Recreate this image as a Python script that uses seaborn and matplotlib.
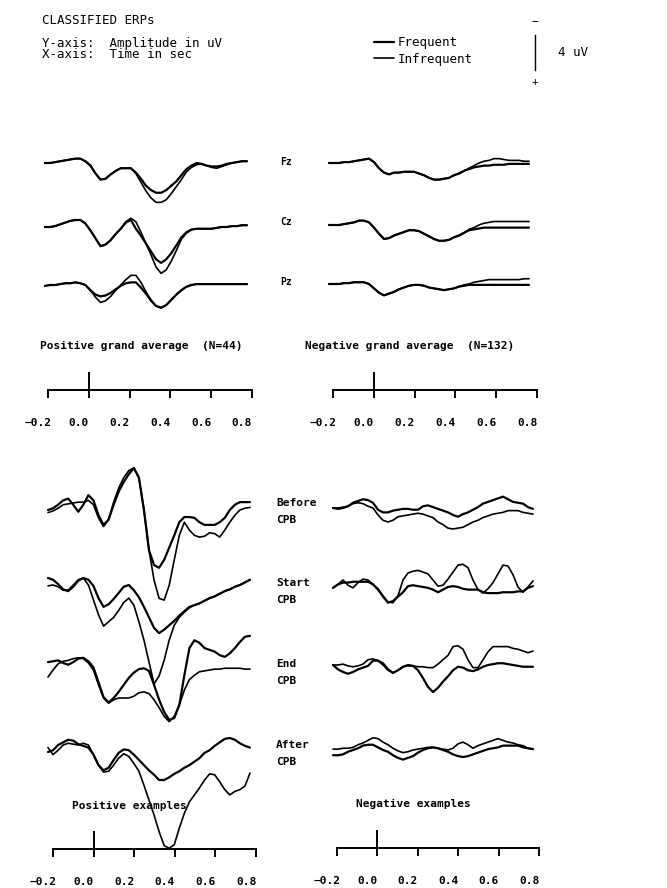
import numpy as np
import pandas as pd
import matplotlib.pyplot as plt
import seaborn as sns
from matplotlib.transforms import ScaledTranslation

sns.set_style("white")
plt.rcParams['font.family'] = ['DejaVu Sans Mono', 'DejaVu Sans']
plt.rcParams['text.color'] = 'black'
plt.rcParams['xtick.color'] = 'black'

# time base (sec), one sample every 25 ms
times = [-0.2, -0.175, -0.15, -0.125, -0.1, -0.075, -0.05, -0.025, 0.0, 0.025,
         0.05, 0.075, 0.1, 0.125, 0.15, 0.175, 0.2, 0.225, 0.25, 0.275,
         0.3, 0.325, 0.35, 0.375, 0.4, 0.425, 0.45, 0.475, 0.5, 0.525,
         0.55, 0.575, 0.6, 0.625, 0.65, 0.675, 0.7, 0.725, 0.75, 0.775, 0.8]

# positive grand average (N=44), amplitude in uV (positive = down)
pos_fz_freq = [0, 0, -0.1, -0.2, -0.3, -0.4, -0.5, -0.5, -0.2, 0.3, 1.2, 1.9, 1.8, 1.3, 0.9, 0.6, 0.6, 0.6, 1.1, 1.8,
               2.6, 3.1, 3.4, 3.4, 3.1, 2.6, 2.1, 1.4, 0.7, 0.3, 0, 0.1, 0.3, 0.4, 0.4, 0.3, 0.1, 0, -0.1, -0.2, -0.2]
pos_fz_infreq = [0, 0, -0.1, -0.2, -0.3, -0.4, -0.5, -0.5, -0.2, 0.3, 1.2, 1.9, 1.8, 1.3, 0.9, 0.6, 0.6, 0.6, 1.2, 2.2,
                 3.2, 4.0, 4.5, 4.5, 4.2, 3.5, 2.7, 1.9, 1.0, 0.5, 0.2, 0.1, 0.3, 0.5, 0.6, 0.4, 0.2, 0, -0.1, -0.2, -0.2]
pos_cz_freq = [0, 0, -0.1, -0.3, -0.5, -0.7, -0.8, -0.8, -0.4, 0.4, 1.3, 2.2, 2.0, 1.5, 0.8, 0.2, -0.5, -0.8, 0.2, 1.0,
               1.9, 2.8, 3.7, 4.1, 3.7, 3.0, 2.1, 1.2, 0.6, 0.3, 0.2, 0.2, 0.2, 0.2, 0.1, 0, 0, -0.1, -0.1, -0.2, -0.2]
pos_cz_infreq = [0, 0, -0.1, -0.3, -0.5, -0.7, -0.8, -0.8, -0.4, 0.4, 1.3, 2.2, 2.0, 1.5, 0.8, 0.2, -0.6, -1.0, -0.6, 0.6,
                 1.9, 3.2, 4.6, 5.3, 4.9, 3.9, 2.7, 1.4, 0.7, 0.3, 0.2, 0.2, 0.2, 0.2, 0.1, 0, 0, -0.1, -0.1, -0.2, -0.2]
pos_pz_freq = [0.1, 0, 0, -0.1, -0.2, -0.2, -0.3, -0.2, 0, 0.6, 1.1, 1.3, 1.2, 0.9, 0.5, 0.1, -0.2, -0.3, -0.3, 0.3,
               1.0, 1.8, 2.4, 2.6, 2.3, 1.7, 1.1, 0.6, 0.2, 0, -0.1, -0.1, -0.1, -0.1, -0.1, -0.1, -0.1, -0.1, -0.1, -0.1, -0.1]
pos_pz_infreq = [0.1, 0, 0, -0.1, -0.2, -0.2, -0.3, -0.2, 0, 0.6, 1.4, 2.0, 1.8, 1.3, 0.6, 0, -0.6, -1.1, -1.1, -0.3,
                 0.8, 1.7, 2.4, 2.6, 2.3, 1.7, 1.1, 0.6, 0.2, 0, -0.1, -0.1, -0.1, -0.1, -0.1, -0.1, -0.1, -0.1, -0.1, -0.1, -0.1]

# negative grand average (N=132)
neg_fz_freq = [0, 0, 0, -0.1, -0.1, -0.2, -0.3, -0.4, -0.5, -0.1, 0.6, 1.1, 1.3, 1.1, 1.1, 1.0, 1.0, 1.0, 1.2, 1.4,
               1.7, 1.9, 1.9, 1.8, 1.7, 1.4, 1.2, 0.9, 0.7, 0.5, 0.4, 0.3, 0.3, 0.2, 0.2, 0.2, 0.1, 0.1, 0.1, 0.1, 0.1]
neg_fz_infreq = [0, 0, 0, -0.1, -0.1, -0.2, -0.3, -0.4, -0.5, -0.1, 0.6, 1.1, 1.3, 1.1, 1.1, 1.0, 1.0, 1.0, 1.2, 1.4,
                 1.7, 1.9, 1.9, 1.8, 1.7, 1.4, 1.2, 0.9, 0.6, 0.3, 0, -0.2, -0.3, -0.5, -0.5, -0.4, -0.3, -0.3, -0.3, -0.2, -0.2]
neg_cz_freq = [0, 0, 0, -0.1, -0.2, -0.3, -0.5, -0.5, -0.3, 0.3, 1.0, 1.6, 1.5, 1.2, 1.0, 0.8, 0.6, 0.6, 0.7, 1.0,
               1.3, 1.6, 1.8, 1.8, 1.7, 1.4, 1.2, 0.9, 0.6, 0.5, 0.4, 0.3, 0.3, 0.3, 0.3, 0.3, 0.3, 0.3, 0.3, 0.3, 0.3]
neg_cz_infreq = [0, 0, 0, -0.1, -0.2, -0.3, -0.5, -0.5, -0.3, 0.3, 1.0, 1.6, 1.5, 1.2, 1.0, 0.8, 0.6, 0.6, 0.7, 1.0,
                 1.3, 1.6, 1.8, 1.8, 1.7, 1.4, 1.2, 0.9, 0.5, 0.3, 0, -0.2, -0.3, -0.4, -0.4, -0.4, -0.4, -0.4, -0.4, -0.4, -0.4]
neg_pz_freq = [0, 0, 0, -0.1, -0.1, -0.2, -0.2, -0.2, 0, 0.5, 1.0, 1.3, 1.1, 0.9, 0.6, 0.4, 0.2, 0.1, 0.1, 0.2,
               0.4, 0.5, 0.6, 0.7, 0.6, 0.5, 0.3, 0.2, 0.1, 0.1, 0.1, 0.1, 0.1, 0.1, 0.1, 0.1, 0.1, 0.1, 0.1, 0.1, 0.1]
neg_pz_infreq = [0, 0, 0, -0.1, -0.1, -0.2, -0.2, -0.2, 0, 0.5, 1.0, 1.3, 1.1, 0.9, 0.6, 0.4, 0.2, 0.1, 0.1, 0.2,
                 0.4, 0.5, 0.6, 0.7, 0.6, 0.5, 0.3, 0.1, 0, -0.2, -0.3, -0.4, -0.5, -0.5, -0.5, -0.5, -0.5, -0.5, -0.5, -0.6, -0.6]

# positive examples
pex_before_freq = [0, -0.2, -0.6, -1.1, -1.3, -0.6, 0.2, -0.6, -1.7, -1.1, 0.6, 1.7, 1.1, -0.6, -2.1, -3.2, -4.1, -4.8, -3.7, 0,
                   4.6, 6.3, 6.6, 5.7, 4.3, 2.9, 1.4, 0.8, 0.8, 0.9, 1.4, 1.7, 1.7, 1.7, 1.4, 0.9, 0, -0.6, -0.9, -0.9, -0.9]
pex_before_infreq = [0.3, 0.1, -0.2, -0.6, -0.7, -0.8, -0.9, -0.9, -1.1, -0.6, 0.9, 1.9, 1.1, -0.9, -2.5, -3.7, -4.5, -4.8, -3.7, 0,
                     4.6, 8.0, 10.1, 10.3, 8.6, 5.7, 2.9, 1.4, 2.3, 2.9, 3.1, 3.0, 2.6, 2.7, 3.1, 2.3, 1.4, 0.6, 0, -0.2, -0.3]
pex_start_freq = [-0.8, -0.6, -0.1, 0.5, 0.7, 0.2, -0.5, -0.8, -0.6, 0.1, 1.5, 2.5, 2.2, 1.6, 0.9, 0.2, 0, 0.6, 1.4, 2.5,
                  3.7, 4.9, 5.5, 5.1, 4.6, 4.1, 3.5, 3.0, 2.5, 2.3, 2.1, 1.8, 1.5, 1.3, 1.0, 0.7, 0.5, 0.2, 0, -0.3, -0.6]
pex_start_infreq = [0.1, 0, 0.2, 0.6, 0.6, 0, -0.6, -0.8, 0, 1.7, 3.4, 4.7, 4.2, 3.7, 2.9, 2.0, 1.5, 2.3, 4.2, 6.3,
                    8.8, 11.3, 10.4, 8.6, 6.3, 4.6, 3.7, 3.1, 2.6, 2.3, 2.1, 1.8, 1.5, 1.3, 1.0, 0.7, 0.5, 0.2, 0, -0.3, -0.6]
pex_end_freq = [-0.1, -0.2, -0.3, 0, 0.2, -0.1, -0.5, -0.6, -0.2, 0.5, 2.2, 3.9, 4.5, 4.0, 3.3, 2.5, 1.7, 1.1, 0.7, 0.6,
                0.9, 2.5, 4.2, 5.6, 6.5, 6.3, 4.8, 1.4, -1.7, -2.6, -2.3, -1.7, -1.5, -1.3, -0.9, -0.7, -1.1, -1.7, -2.4, -3.0, -3.1]
pex_end_infreq = [1.6, 0.8, 0.1, -0.2, -0.3, -0.5, -0.6, -0.5, 0, 0.8, 2.5, 4.0, 4.6, 4.2, 4.0, 4.0, 4.0, 3.8, 3.4, 3.3,
                  3.5, 4.2, 5.1, 6.1, 6.7, 6.1, 4.8, 3.1, 1.9, 1.4, 1.0, 0.9, 0.8, 0.7, 0.7, 0.6, 0.6, 0.6, 0.6, 0.7, 0.7]
pex_after_freq = [0.8, 0.6, 0, -0.3, -0.6, -0.5, -0.1, 0.1, 0.3, 1.1, 2.3, 2.9, 2.6, 1.7, 0.9, 0.5, 0.6, 1.1, 1.7, 2.3,
                  2.9, 3.4, 4.0, 4.0, 3.7, 3.3, 3.0, 2.6, 2.3, 1.9, 1.5, 0.9, 0.6, 0.1, -0.3, -0.7, -0.8, -0.6, -0.2, 0.1, 0.3]
pex_after_infreq = [0.3, 1.1, 0.6, 0, -0.2, -0.1, 0, -0.2, 0, 1.1, 2.3, 3.1, 3.0, 2.3, 1.5, 1.0, 1.3, 2.1, 3.0, 4.6,
                    6.3, 8.0, 9.9, 11.5, 11.8, 11.4, 9.5, 7.8, 6.5, 5.7, 4.9, 4.0, 3.3, 3.4, 4.2, 5.1, 5.7, 5.3, 5.1, 4.7, 3.2]

# negative examples
nex_before_freq = [0, 0.1, 0, -0.2, -0.6, -0.8, -1.0, -0.9, -0.6, 0.2, 0.5, 0.5, 0.3, 0.2, 0.1, 0.1, 0.2, 0.2, -0.2, -0.3,
                   -0.1, 0.1, 0.3, 0.5, 0.8, 1.0, 0.7, 0.5, 0.2, -0.1, -0.5, -0.7, -0.9, -1.1, -1.3, -1.0, -0.7, -0.6, -0.5, -0.1, 0.1]
nex_before_infreq = [0, 0, -0.1, -0.2, -0.5, -0.6, -0.5, -0.2, 0, 0.8, 1.4, 1.6, 1.4, 1.0, 0.9, 0.8, 0.7, 0.6, 0.7, 0.9,
                     1.1, 1.6, 1.9, 2.3, 2.4, 2.3, 2.2, 1.9, 1.6, 1.4, 1.1, 0.9, 0.7, 0.6, 0.5, 0.3, 0.3, 0.3, 0.5, 0.6, 0.7]
nex_start_freq = [0.1, -0.3, -0.5, -0.5, -0.6, -0.6, -0.6, -0.6, -0.3, 0.3, 1.1, 1.8, 1.6, 1.1, 0.6, -0.1, -0.2, -0.1, 0, 0.1,
                  0.3, 0.6, 0.3, 0, -0.1, 0, 0.2, 0.3, 0.3, 0.3, 0.6, 0.7, 0.7, 0.7, 0.6, 0.6, 0.6, 0.5, 0.5, 0.1, -0.1]
nex_start_infreq = [0.1, -0.3, -0.8, -0.2, 0.1, -0.5, -0.9, -0.8, -0.3, 0.2, 1.0, 1.7, 1.8, 1.0, -0.8, -1.6, -1.8, -1.9, -1.7, -1.5,
                    -0.8, -0.1, -0.2, -0.9, -1.7, -2.5, -2.6, -2.2, -0.8, 0.3, 0.7, 0.2, -0.5, -1.5, -2.5, -2.4, -1.4, 0, 0.6, 0, -0.7]
nex_end_freq = [0, 0.5, 0.8, 1.0, 0.8, 0.5, 0.3, 0.1, -0.5, -0.5, -0.2, 0.5, 0.9, 0.6, 0.2, 0, 0.1, 0.6, 1.5, 2.5,
                3.1, 2.6, 1.9, 1.3, 0.6, 0.2, 0.3, 0.6, 0.7, 0.5, 0.2, 0, -0.1, -0.2, -0.2, -0.1, 0, 0.1, 0.2, 0.2, 0.2]
nex_end_infreq = [0, 0, -0.1, 0.1, 0.2, 0.1, -0.1, -0.6, -0.7, -0.5, 0, 0.6, 0.9, 0.6, 0.2, 0.1, 0.1, 0.2, 0.2, 0.3,
                  0.3, -0.1, -0.6, -1.1, -2.1, -2.2, -1.8, -0.6, 0.3, 0.3, -0.6, -1.5, -2.1, -2.1, -2.1, -2.1, -1.9, -1.8, -1.6, -1.4, -1.6]
nex_after_freq = [0.6, 0.6, 0.5, 0.2, 0, -0.2, -0.5, -0.6, -0.6, -0.3, 0, 0.2, 0.6, 0.9, 1.1, 0.9, 0.7, 0.3, 0, -0.2,
                  -0.3, -0.2, 0, 0.2, 0.5, 0.7, 0.8, 0.7, 0.5, 0.3, 0.1, -0.1, -0.2, -0.3, -0.5, -0.5, -0.5, -0.5, -0.3, -0.2, -0.1]
nex_after_infreq = [-0.1, -0.1, -0.2, -0.2, -0.3, -0.6, -0.8, -1.1, -1.4, -1.3, -0.9, -0.6, -0.2, 0.1, 0.3, 0.2, 0, -0.1, -0.2, -0.3,
                    -0.3, -0.2, -0.1, 0, -0.2, -0.7, -0.9, -0.6, -0.2, -0.5, -0.7, -0.9, -1.1, -1.3, -1.1, -0.9, -0.8, -0.6, -0.5, -0.2, -0.1]

scale_ticks = [-0.2, 0.0, 0.2, 0.4, 0.6, 0.8]
scale_labels = ['\u22120.2', '0.0', '0.2', '0.4', '0.6', '0.8']

# layout (pixels of the 667 x 888 page)
W, H = 667, 888
PX_PER_UV = 35 / 4          # 4 uV bar is 35 px tall
fig = plt.figure(figsize=(W / 100, H / 100), dpi=100)
fig.patch.set_facecolor('white')


def box(x0, y0, x1, y1):
    ax = fig.add_axes([x0 / W, 1 - y1 / H, (x1 - x0) / W, (y1 - y0) / H])
    ax.patch.set_visible(False)
    return ax


def panel(x0, x1, top, bottom, rows, baselines):
    ax = box(x0, top, x1, bottom)
    for (freq, infreq), base in zip(rows, baselines):
        off = (base - top) / PX_PER_UV
        df = pd.DataFrame({'t': times,
                           'Frequent': np.array(freq) + off,
                           'Infrequent': np.array(infreq) + off})
        long = df.melt(id_vars='t', var_name='cond', value_name='uV')
        sns.lineplot(data=long, x='t', y='uV', hue='cond', size='cond',
                     palette={'Frequent': 'black', 'Infrequent': 'black'},
                     sizes={'Frequent': 1.6, 'Infrequent': 1.2},
                     legend=False, ax=ax, clip_on=False)
    ax.set_xlim(-0.2, 0.8)
    ax.set_ylim((bottom - top) / PX_PER_UV, 0)   # negative up
    ax.axis('off')
    return ax


def time_scale(x0, x1, line_y):
    ax = box(x0, line_y - 18, x1, line_y)
    ax.set_xlim(-0.2, 0.8)
    ax.set_ylim(0, 1)
    ax.set_yticks([])
    for s in ['top', 'left', 'right']:
        ax.spines[s].set_visible(False)
    ax.spines['bottom'].set_color('black')
    ax.spines['bottom'].set_linewidth(1.4)
    ax.set_xticks(scale_ticks)
    ax.set_xticklabels(scale_labels, fontweight='bold', fontsize=8)
    ax.tick_params(axis='x', bottom=True, direction='out', length=6, width=1.4,
                   color='black', pad=14)
    ax.axvline(0, color='black', lw=1.4)
    shift = ScaledTranslation(-10 / 100, 0, fig.dpi_scale_trans)
    for lab in ax.get_xticklabels():
        lab.set_transform(lab.get_transform() + shift)
    ax.set_xlabel('')


ax_tl = panel(45, 247, 120, 330,
              [(pos_fz_freq, pos_fz_infreq), (pos_cz_freq, pos_cz_infreq), (pos_pz_freq, pos_pz_infreq)],
              [163, 227, 285])
panel(329, 529, 120, 330,
      [(neg_fz_freq, neg_fz_infreq), (neg_cz_freq, neg_cz_infreq), (neg_pz_freq, neg_pz_infreq)],
      [163, 225, 284])
panel(48, 250, 440, 870,
      [(pex_before_freq, pex_before_infreq), (pex_start_freq, pex_start_infreq),
       (pex_end_freq, pex_end_infreq), (pex_after_freq, pex_after_infreq)],
      [510, 585, 663, 745])
panel(333, 533, 440, 870,
      [(nex_before_freq, nex_before_infreq), (nex_start_freq, nex_start_infreq),
       (nex_end_freq, nex_end_infreq), (nex_after_freq, nex_after_infreq)],
      [508, 587, 665, 750])

time_scale(48, 252, 390)
time_scale(333, 537, 390)
time_scale(53, 256, 849)
time_scale(337, 539, 848)


def px_text(x, y, s, **kw):
    fig.text(x / W, 1 - y / H, s, va='center', **kw)


lbl = dict(fontsize=8, fontweight='bold')
for name, y in [('Fz', 162), ('Cz', 222), ('Pz', 282)]:
    px_text(280, y, name, fontsize=7, fontweight='bold')
for name, y in [('Before', 503), ('Start', 583), ('End', 664), ('After', 745)]:
    px_text(276, y, name, **lbl)
    px_text(276, y + 17, 'CPB', **lbl)

px_text(40, 346, 'Positive grand average  (N=44)', **lbl)
px_text(305, 346, 'Negative grand average  (N=132)', **lbl)
px_text(72, 806, 'Positive examples', **lbl)
px_text(356, 804, 'Negative examples', **lbl)

# header
px_text(42, 20, 'CLASSIFIED ERPs', fontsize=9)
px_text(42, 43, 'Y-axis:  Amplitude in uV', fontsize=9)
px_text(42, 55, 'X-axis:  Time in sec', fontsize=9)

handles = ax_tl.get_lines()[:2]
fig.legend(handles, ['Frequent', 'Infrequent'], loc='center left',
           bbox_to_anchor=(368 / W, 1 - 51 / H), frameon=False,
           prop={'family': 'DejaVu Sans Mono', 'size': 9},
           handlelength=1.6, handletextpad=0.3, labelspacing=0.25, borderpad=0)

# 4 uV calibration bar
ax_bar = box(535, 35, 545, 35 + 4 * PX_PER_UV)
ax_bar.set_xticks([])
ax_bar.set_yticks([])
for s in ['top', 'bottom', 'right']:
    ax_bar.spines[s].set_visible(False)
ax_bar.spines['left'].set_color('black')
ax_bar.spines['left'].set_linewidth(1.0)
px_text(532, 22, '\u2212', fontsize=8)
px_text(532, 82, '+', fontsize=8)
px_text(558, 52, '4 uV', fontsize=9)

fig.savefig('out.png', dpi=100, facecolor='white')
